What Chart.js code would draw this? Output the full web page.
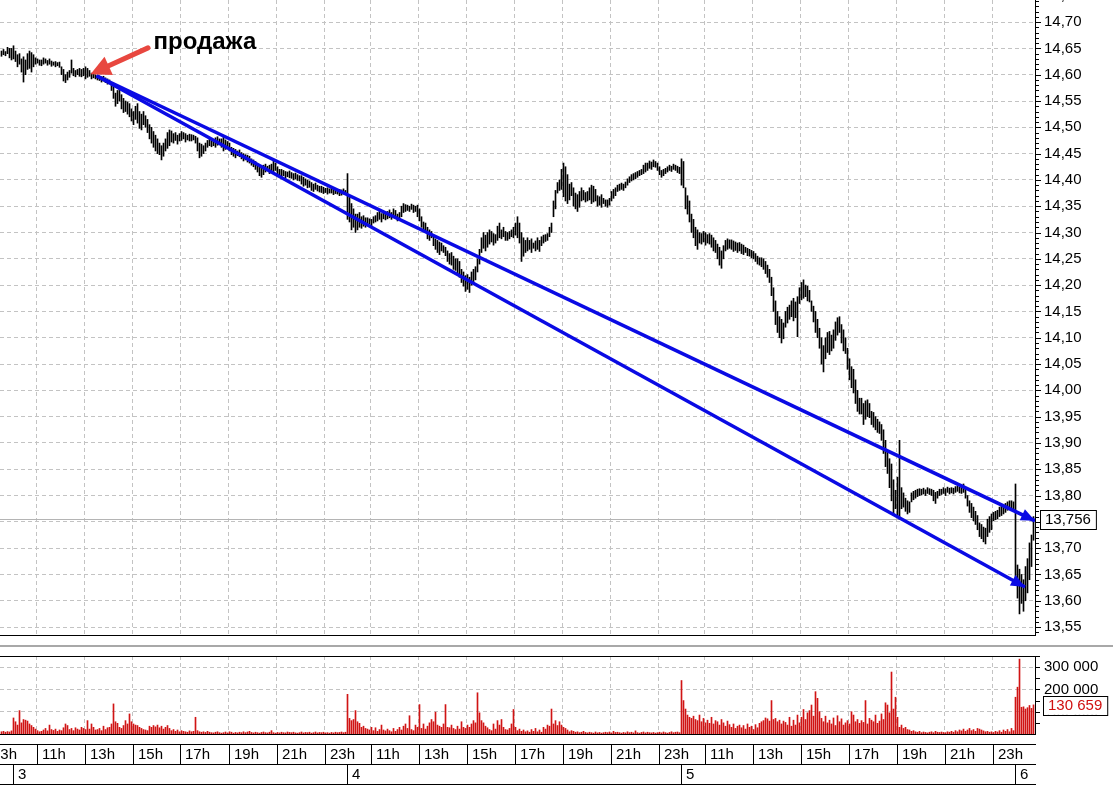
<!DOCTYPE html>
<html>
<head>
<meta charset="utf-8">
<script src="https://cdn.jsdelivr.net/npm/chart.js@4.4.1/dist/chart.umd.min.js"></script>
<style>
  html, body { margin: 0; padding: 0; background: #fff; }
  #wrap { position: relative; width: 1113px; height: 785px; overflow: hidden; background: #fff; }
  #price { position: absolute; left: 0; top: 0; }
  #sep { position: absolute; left: 0; top: 645px; width: 1113px; height: 2px; background: #a8a8a8; }
  #volume { position: absolute; left: 0; top: 648px; }
</style>
</head>
<body>
<div id="wrap">
  <canvas id="price" width="1113" height="636"></canvas>
  <div id="sep"></div>
  <canvas id="volume" width="1113" height="137"></canvas>
</div>
<script>
// 1. DATA (5-minute bars, index 0 = first visible bar)
const lows = [
  14.635, 14.638, 14.636, 14.640, 14.632, 14.628, 14.630, 14.625, 14.615, 14.620,
  14.605, 14.586, 14.600, 14.610, 14.612, 14.605, 14.615, 14.620, 14.622, 14.618,
  14.617, 14.620, 14.622, 14.618, 14.620, 14.616, 14.618, 14.615, 14.617, 14.614,
  14.600, 14.588, 14.585, 14.590, 14.595, 14.603, 14.598, 14.596, 14.600, 14.597,
  14.596, 14.598, 14.592, 14.595, 14.597, 14.592, 14.594, 14.592, 14.590, 14.589,
  14.586, 14.588, 14.585, 14.582, 14.583, 14.570, 14.555, 14.540, 14.545, 14.550,
  14.535, 14.528, 14.530, 14.525, 14.520, 14.512, 14.505, 14.515, 14.508, 14.498,
  14.495, 14.505, 14.500, 14.490, 14.478, 14.470, 14.462, 14.455, 14.450, 14.448,
  14.438, 14.445, 14.455, 14.460, 14.465, 14.472, 14.470, 14.475, 14.468, 14.474,
  14.475, 14.478, 14.472, 14.476, 14.474, 14.474, 14.476, 14.470, 14.455, 14.442,
  14.445, 14.450, 14.455, 14.462, 14.465, 14.463, 14.465, 14.462, 14.466, 14.468,
  14.462, 14.455, 14.458, 14.460, 14.455, 14.448, 14.445, 14.442, 14.446, 14.444,
  14.440, 14.436, 14.438, 14.434, 14.432, 14.428, 14.425, 14.420, 14.415, 14.408,
  14.405, 14.410, 14.415, 14.418, 14.412, 14.415, 14.412, 14.418, 14.410, 14.408,
  14.405, 14.408, 14.403, 14.406, 14.404, 14.403, 14.400, 14.402, 14.399, 14.398,
  14.392, 14.388, 14.390, 14.385, 14.386, 14.380, 14.378, 14.382, 14.379, 14.377,
  14.376, 14.374, 14.376, 14.373, 14.375, 14.375, 14.372, 14.374, 14.373, 14.370,
  14.371, 14.373, 14.372,
  // day 4
  14.325, 14.320, 14.305, 14.310, 14.300, 14.305, 14.310, 14.308, 14.312, 14.310,
  14.314, 14.316, 14.312, 14.318, 14.320, 14.322, 14.325, 14.320, 14.326, 14.324,
  14.326, 14.328, 14.325, 14.330, 14.327, 14.322, 14.325, 14.330, 14.338, 14.340,
  14.342, 14.340, 14.344, 14.338, 14.340, 14.330, 14.322, 14.310, 14.305, 14.300,
  14.288, 14.285, 14.290, 14.275, 14.268, 14.262, 14.258, 14.265, 14.262, 14.256,
  14.245, 14.240, 14.238, 14.230, 14.228, 14.220, 14.215, 14.205, 14.198, 14.188,
  14.192, 14.186, 14.200, 14.205, 14.210, 14.225, 14.240, 14.262, 14.270, 14.265,
  14.272, 14.278, 14.282, 14.276, 14.280, 14.285, 14.290, 14.288, 14.292, 14.285,
  14.285, 14.288, 14.292, 14.290, 14.295, 14.290, 14.280, 14.245, 14.255, 14.262,
  14.265, 14.268, 14.262, 14.270, 14.265, 14.268, 14.264, 14.275, 14.280, 14.283,
  14.285, 14.292, 14.300, 14.330, 14.345, 14.375, 14.380, 14.382, 14.368, 14.360,
  14.355, 14.362, 14.370, 14.350, 14.345, 14.340, 14.348, 14.360, 14.362, 14.358,
  14.360, 14.362, 14.355, 14.358, 14.360, 14.350, 14.352, 14.348, 14.355, 14.350,
  14.348, 14.352, 14.360, 14.365, 14.370, 14.378, 14.380, 14.382, 14.380, 14.385,
  14.390, 14.395, 14.398, 14.400, 14.402, 14.405, 14.408, 14.410, 14.412, 14.415,
  14.418, 14.422, 14.420, 14.425, 14.424, 14.418, 14.410, 14.405, 14.408, 14.412,
  14.415, 14.418, 14.416, 14.420, 14.418, 14.414, 14.412,
  // day 5
  14.390, 14.385, 14.345, 14.335, 14.320, 14.300, 14.290, 14.275, 14.268, 14.280,
  14.278, 14.282, 14.276, 14.280, 14.278, 14.272, 14.265, 14.262, 14.250, 14.238,
  14.232, 14.250, 14.265, 14.268, 14.270, 14.268, 14.264, 14.266, 14.262, 14.265,
  14.260, 14.258, 14.262, 14.256, 14.255, 14.252, 14.250, 14.245, 14.240, 14.238,
  14.235, 14.230, 14.222, 14.215, 14.205, 14.180, 14.150, 14.125, 14.110, 14.100,
  14.090, 14.098, 14.120, 14.128, 14.135, 14.140, 14.132, 14.138, 14.102, 14.165,
  14.172, 14.175, 14.178, 14.170, 14.168, 14.150, 14.130, 14.110, 14.100, 14.080,
  14.050, 14.035, 14.060, 14.072, 14.068, 14.075, 14.080, 14.095, 14.105, 14.110,
  14.090, 14.075, 14.070, 14.040, 14.020, 14.005, 13.995, 13.975, 13.960, 13.955,
  13.955, 13.935, 13.945, 13.950, 13.948, 13.935, 13.930, 13.925, 13.920, 13.918,
  13.905, 13.880, 13.855, 13.842, 13.815, 13.790, 13.762, 13.775, 13.760, 13.755,
  13.775, 13.778, 13.770, 13.765, 13.768, 13.788, 13.792, 13.795, 13.798, 13.800,
  13.801, 13.803, 13.800, 13.804, 13.802, 13.800, 13.790, 13.785, 13.795, 13.800,
  13.802, 13.804, 13.800, 13.806, 13.803, 13.805, 13.803, 13.806, 13.808, 13.805,
  13.804, 13.806, 13.795, 13.780, 13.768, 13.758, 13.752, 13.745, 13.735, 13.722,
  13.718, 13.712, 13.708, 13.722, 13.730, 13.735, 13.752, 13.754, 13.756, 13.760,
  13.762, 13.765, 13.768, 13.772, 13.775, 13.776, 13.774,
  // day 6
  13.640, 13.605, 13.575, 13.595, 13.580, 13.600, 13.615, 13.640, 13.665, 13.715
];

const highs = [
  14.645, 14.648, 14.644, 14.652, 14.650, 14.650, 14.655, 14.645, 14.638, 14.640,
  14.630, 14.634, 14.628, 14.640, 14.645, 14.642, 14.638, 14.632, 14.630, 14.628,
  14.628, 14.632, 14.630, 14.627, 14.630, 14.626, 14.624, 14.625, 14.623, 14.624,
  14.615, 14.610, 14.600, 14.605, 14.608, 14.628, 14.612, 14.608, 14.610, 14.612,
  14.610, 14.612, 14.615, 14.612, 14.608, 14.603, 14.602, 14.600, 14.598, 14.597,
  14.596, 14.597, 14.594, 14.592, 14.590, 14.585, 14.578, 14.565, 14.570, 14.575,
  14.562, 14.555, 14.550, 14.548, 14.545, 14.535, 14.530, 14.540, 14.545, 14.530,
  14.525, 14.530, 14.522, 14.515, 14.505, 14.500, 14.492, 14.485, 14.478, 14.470,
  14.465, 14.470, 14.478, 14.490, 14.495, 14.493, 14.488, 14.490, 14.485, 14.488,
  14.492, 14.490, 14.488, 14.485, 14.487, 14.486, 14.485, 14.483, 14.480, 14.470,
  14.468, 14.465, 14.470, 14.475, 14.478, 14.475, 14.477, 14.480, 14.482, 14.478,
  14.478, 14.482, 14.476, 14.473, 14.470, 14.462, 14.460, 14.458, 14.455, 14.457,
  14.452, 14.450, 14.448, 14.447, 14.445, 14.440, 14.438, 14.435, 14.430, 14.425,
  14.425, 14.428, 14.430, 14.426, 14.428, 14.430, 14.436, 14.432, 14.425, 14.420,
  14.420, 14.418, 14.416, 14.415, 14.417, 14.414, 14.412, 14.413, 14.410, 14.408,
  14.408, 14.405, 14.402, 14.400, 14.398, 14.395, 14.392, 14.394, 14.390, 14.388,
  14.388, 14.386, 14.384, 14.385, 14.383, 14.385, 14.384, 14.382, 14.380, 14.382,
  14.381, 14.383, 14.380,
  // day 4
  14.412, 14.370, 14.355, 14.345, 14.335, 14.335, 14.338, 14.330, 14.332, 14.328,
  14.328, 14.326, 14.325, 14.330, 14.332, 14.338, 14.342, 14.336, 14.338, 14.335,
  14.340, 14.343, 14.338, 14.345, 14.342, 14.335, 14.338, 14.350, 14.355, 14.353,
  14.352, 14.350, 14.354, 14.352, 14.350, 14.352, 14.345, 14.330, 14.320, 14.318,
  14.310, 14.305, 14.302, 14.295, 14.288, 14.285, 14.282, 14.280, 14.275, 14.272,
  14.265, 14.260, 14.262, 14.255, 14.250, 14.250, 14.245, 14.230, 14.225, 14.218,
  14.220, 14.215, 14.225, 14.230, 14.235, 14.250, 14.268, 14.290, 14.300, 14.295,
  14.300, 14.305, 14.302, 14.298, 14.296, 14.312, 14.318, 14.305, 14.310, 14.302,
  14.300, 14.302, 14.305, 14.310, 14.318, 14.330, 14.318, 14.300, 14.290, 14.285,
  14.290, 14.285, 14.288, 14.280, 14.284, 14.290, 14.285, 14.292, 14.295, 14.296,
  14.298, 14.310, 14.318, 14.360, 14.380, 14.395, 14.400, 14.420, 14.432, 14.425,
  14.410, 14.392, 14.395, 14.385, 14.375, 14.372, 14.378, 14.385, 14.380, 14.376,
  14.378, 14.385, 14.390, 14.388, 14.382, 14.370, 14.368, 14.372, 14.365, 14.362,
  14.362, 14.365, 14.378, 14.382, 14.385, 14.390, 14.392, 14.394, 14.392, 14.396,
  14.402, 14.406, 14.410, 14.412, 14.414, 14.416, 14.418, 14.420, 14.428, 14.432,
  14.432, 14.436, 14.434, 14.438, 14.435, 14.432, 14.425, 14.418, 14.420, 14.422,
  14.425, 14.428, 14.426, 14.430, 14.428, 14.426, 14.424,
  // day 5
  14.440, 14.435, 14.385, 14.370, 14.360, 14.335, 14.325, 14.310, 14.305, 14.300,
  14.298, 14.302, 14.300, 14.296, 14.298, 14.295, 14.290, 14.285, 14.278, 14.272,
  14.265, 14.275, 14.285, 14.288, 14.286, 14.286, 14.284, 14.282, 14.280, 14.281,
  14.278, 14.276, 14.272, 14.270, 14.268, 14.266, 14.264, 14.260, 14.255, 14.252,
  14.252, 14.250, 14.245, 14.238, 14.230, 14.215, 14.195, 14.170, 14.150, 14.140,
  14.135, 14.128, 14.150, 14.158, 14.162, 14.170, 14.175, 14.168, 14.178, 14.195,
  14.205, 14.210, 14.200, 14.198, 14.190, 14.170, 14.160, 14.150, 14.135, 14.118,
  14.100, 14.085, 14.100, 14.110, 14.112, 14.105, 14.115, 14.130, 14.138, 14.140,
  14.125, 14.115, 14.100, 14.080, 14.060, 14.045, 14.040, 14.020, 14.000, 13.985,
  13.985, 13.975, 13.980, 13.982, 13.975, 13.960, 13.958, 13.950, 13.945, 13.940,
  13.935, 13.925, 13.905, 13.885, 13.870, 13.860, 13.830, 13.810, 13.835, 13.905,
  13.815, 13.805, 13.795, 13.790, 13.788, 13.805, 13.808, 13.810, 13.812, 13.813,
  13.812, 13.814, 13.811, 13.815, 13.813, 13.812, 13.810, 13.806, 13.808, 13.812,
  13.812, 13.815, 13.813, 13.816, 13.814, 13.815, 13.814, 13.817, 13.818, 13.816,
  13.818, 13.822, 13.815, 13.800, 13.790, 13.785, 13.778, 13.770, 13.762, 13.748,
  13.745, 13.740, 13.738, 13.755, 13.760, 13.765, 13.768, 13.770, 13.772, 13.778,
  13.780, 13.782, 13.785, 13.788, 13.790, 13.790, 13.788,
  // day 6
  13.822, 13.668, 13.660, 13.650, 13.640, 13.665, 13.680, 13.710, 13.725, 13.760
];

// volume in thousands
const volumes = [
  10, 12, 8, 11, 9, 14,
  72, 55, 40, 105, 50, 65, 62, 58, 45, 38, 30, 22, 15, 10, 12,
  18, 25, 14, 40, 20, 16, 22, 12, 18, 15, 28, 45, 38, 20, 25,
  15, 28, 22, 18, 30, 25, 20, 60, 22, 45, 30, 18, 20, 25, 15,
  35, 20, 28, 30, 45, 135, 55, 48, 30, 25, 38, 60, 45, 90, 55,
  45, 40, 38, 30, 25, 20, 18, 15, 35, 30, 38, 32, 40, 28, 35,
  22, 30, 38, 25, 15, 20, 12, 18, 10, 15, 12, 10, 8, 14, 10,
  12, 75, 15, 10, 8, 10, 7, 12, 8, 6, 5, 8, 10, 6, 4,
  6, 9, 5, 10, 8, 4, 7, 5, 8, 6, 10, 6, 9, 12, 7,
  5, 8, 6, 4, 7, 9, 6, 5, 8, 15, 6, 4, 7, 5, 8,
  6, 5, 9, 7, 6, 8, 5, 4, 6, 9, 5, 7, 6, 8, 4,
  6, 9, 5, 7, 6, 8, 5, 6, 4, 7, 5, 8, 6, 7, 9,
  6, 8,
  // day 4
  178, 70, 60, 65, 105, 55, 48, 30, 35, 25, 22, 18, 30, 15, 28,
  12, 20, 40, 18, 14, 22, 15, 10, 25, 12, 20, 30, 18, 35, 45,
  25, 82, 20, 15, 40, 30, 132, 25, 45, 22, 35, 50, 65, 55, 98,
  40, 35, 30, 45, 132, 30, 28, 40, 25, 20, 35, 22, 55, 30, 25,
  40, 30, 45, 60, 50, 185, 95, 60, 50, 35, 28, 20, 15, 45, 22,
  60, 40, 65, 30, 20, 18, 25, 45, 110, 30, 15, 22, 12, 18, 10,
  14, 8, 20, 12, 25, 10, 18, 8, 30, 22, 40, 35, 112, 45, 60,
  38, 55, 40, 30, 25, 18, 10, 15, 12, 8, 10, 6, 8, 12, 7,
  5, 8, 6, 4, 9, 5, 7, 4, 6, 8, 6, 9, 5, 12, 7,
  8, 6, 4, 7, 5, 10, 6, 8, 5, 14, 6, 4, 7, 9, 5,
  8, 6, 5, 7, 4, 6, 8, 5, 9, 6, 4, 7, 10, 6, 8,
  9, 6,
  // day 5
  240, 150, 112, 85, 75, 70, 80, 65, 60, 85, 55, 70, 50, 62, 48,
  75, 45, 60, 55, 40, 65, 50, 35, 58, 42, 30, 45, 25, 35, 40,
  28, 38, 22, 45, 30, 35, 20, 42, 28, 48, 55, 60, 72, 68, 58,
  150, 65, 70, 55, 62, 45, 58, 52, 40, 75, 35, 62, 40, 85, 50,
  75, 110, 65, 95, 105, 130, 80, 190, 160, 100, 70, 55, 80, 50, 62,
  45, 72, 38, 82, 55, 68, 40, 50, 60, 45, 100, 85, 55, 65, 48,
  60, 52, 150, 45, 70, 62, 55, 85, 48, 58, 90, 65, 140, 130, 95,
  278, 112, 165, 75, 30, 40, 25, 30, 20, 18, 12, 15, 10, 8, 12,
  6, 9, 7, 5, 8, 10, 6, 12, 8, 7, 9, 7, 6, 10, 8,
  12, 8, 15, 10, 18, 14, 22, 12, 18, 25, 15, 20, 12, 25, 22,
  18, 14, 10, 12, 8, 10, 7, 12, 9, 15, 8, 18, 12, 20, 10,
  25, 15,
  // day 6
  165, 210, 336, 120, 122, 112, 118, 128, 115, 130.659
];

const hourLabels = ['11h', '13h', '15h', '17h', '19h', '21h', '23h'];
const dayLabels = ['3', '4', '5', '6'];
const dayStarts = [6, 173, 340, 507];          // first bar of each session (10:00)
const prevDayStart = -163;                     // session before the first label day
const priceTicks = [13.55, 13.60, 13.65, 13.70, 13.75, 13.80, 13.85, 13.90, 13.95, 14.00,
  14.05, 14.10, 14.15, 14.20, 14.25, 14.30, 14.35, 14.40, 14.45, 14.50,
  14.55, 14.60, 14.65, 14.70, 14.75];
const volumeTicks = [100, 200, 300];
const lastPrice = 13.756;
const lastVolume = 130659;

// channel lines and sale marker, in (bar index, price)
const channelStart = { x: 47.5, y: 14.598 };
const upperEnd = { x: 516.75, y: 13.752 };
const lowerEnd = { x: 511.75, y: 13.626 };
const saleArrowTail = { x: 73.25, y: 14.651 };
const saleArrowTip = { x: 44.5, y: 14.601 };
const saleLabel = { x: 76, y: 14.649, text: 'продажа' };

// 2. SETUP
const X_MIN = -0.75, X_MAX = 516.75;
const OPEN_HOUR = 10, BARS_PER_HOUR = 12;
const GRID = '#c3c3c3';
const BLUE = '#0a0ae4';
const FONT = '"Liberation Sans", Arial, sans-serif';
Chart.defaults.font.family = FONT;
Chart.defaults.color = '#000';

const hourTicks = [];
[prevDayStart].concat(dayStarts).forEach(s => {
    hourLabels.forEach(lbl => {
        const v = s + (parseInt(lbl) - OPEN_HOUR) * BARS_PER_HOUR - 0.5;
        if (v < X_MAX) hourTicks.push({ value: v, label: lbl });
    });
});
const gridTicks = hourTicks.filter(t => t.value > X_MIN);

function xAxis() {
    return {
        type: 'linear', min: X_MIN, max: X_MAX, offset: false,
        afterBuildTicks: s => { s.ticks = gridTicks.map(t => ({ value: t.value })); },
        afterFit: s => { s.height = 0; },
        ticks: { display: false, autoSkip: false },
        grid: { color: GRID, drawTicks: false, offset: false },
        border: { display: false, dash: [4, 3] }
    };
}

function drawArrowHead(ctx, x0, y0, x1, y1, len, half) {
    const d = Math.hypot(x1 - x0, y1 - y0), ux = (x1 - x0) / d, uy = (y1 - y0) / d;
    const bx = x1 - ux * len, by = y1 - uy * len;
    ctx.beginPath();
    ctx.moveTo(x1, y1);
    ctx.lineTo(bx - uy * half, by + ux * half);
    ctx.lineTo(bx + uy * half, by - ux * half);
    ctx.closePath();
    ctx.fill();
}

function valueBox(ctx, text, x, y, color) {
    ctx.font = '15px ' + FONT;
    const w = ctx.measureText(text).width + 10;
    ctx.fillStyle = '#fff';
    ctx.fillRect(x, y - 9, w, 19);
    ctx.strokeStyle = '#000';
    ctx.lineWidth = 1;
    ctx.strokeRect(x + 0.5, Math.round(y - 9) + 0.5, w, 19);
    ctx.fillStyle = color;
    ctx.textBaseline = 'middle';
    ctx.textAlign = 'left';
    ctx.fillText(text, x + 5, y + 1);
}

// 3. PRICE PANEL
const priceOverlay = {
    id: 'priceOverlay',
    beforeDatasetsDraw(chart) {
        const { ctx, chartArea: a, scales: { y } } = chart;
        const py = Math.round(y.getPixelForValue(lastPrice)) + 0.5;
        ctx.save();
        ctx.strokeStyle = '#b4b4b4';
        ctx.lineWidth = 1;
        ctx.beginPath(); ctx.moveTo(a.left, py); ctx.lineTo(a.right, py); ctx.stroke();
        ctx.restore();
    },
    afterDatasetsDraw(chart) {
        const { ctx, scales: { x, y } } = chart;
        const sx = x.getPixelForValue(channelStart.x), sy = y.getPixelForValue(channelStart.y);
        ctx.save();
        ctx.fillStyle = BLUE;
        [upperEnd, lowerEnd].forEach(p => {
            drawArrowHead(ctx, sx, sy, x.getPixelForValue(p.x), y.getPixelForValue(p.y), 14, 6);
        });

        // red "sale" arrow
        const tx = x.getPixelForValue(saleArrowTail.x), ty = y.getPixelForValue(saleArrowTail.y);
        const hx = x.getPixelForValue(saleArrowTip.x), hy = y.getPixelForValue(saleArrowTip.y);
        const d = Math.hypot(hx - tx, hy - ty);
        ctx.strokeStyle = '#e8473f';
        ctx.fillStyle = '#e8473f';
        ctx.lineWidth = 5;
        ctx.lineCap = 'round';
        ctx.beginPath();
        ctx.moveTo(tx, ty);
        ctx.lineTo(hx - (hx - tx) / d * 14, hy - (hy - ty) / d * 14);
        ctx.stroke();
        drawArrowHead(ctx, tx, ty, hx, hy, 20, 10);

        ctx.fillStyle = '#000';
        ctx.font = 'bold 24px ' + FONT;
        ctx.textBaseline = 'alphabetic';
        ctx.fillText(saleLabel.text, x.getPixelForValue(saleLabel.x), y.getPixelForValue(saleLabel.y));
        ctx.restore();
    },
    afterDraw(chart) {
        const { ctx, chartArea: a, scales: { y } } = chart;
        ctx.save();
        ctx.strokeStyle = '#000';
        ctx.lineWidth = 1;
        ctx.beginPath();
        ctx.moveTo(a.right + 0.5, 0); ctx.lineTo(a.right + 0.5, a.bottom);
        ctx.moveTo(0, a.bottom - 0.5); ctx.lineTo(a.right + 1, a.bottom - 0.5);
        // minor ticks every 0.01
        for (let k = 1354; k <= 1475; k++) {
            const py = Math.round(y.getPixelForValue(k / 100)) + 0.5;
            ctx.moveTo(a.right, py);
            ctx.lineTo(a.right + (k % 5 === 0 ? 6 : 4), py);
        }
        ctx.stroke();
        valueBox(ctx, lastPrice.toFixed(3).replace('.', ','), a.right + 5, y.getPixelForValue(lastPrice), '#000');
        ctx.restore();
    }
};

new Chart(document.getElementById('price'), {
    type: 'bar',
    data: {
        datasets: [
            {
                type: 'line', data: [channelStart, upperEnd],
                borderColor: BLUE, borderWidth: 3.5, pointRadius: 0
            },
            {
                type: 'line', data: [channelStart, lowerEnd],
                borderColor: BLUE, borderWidth: 3.5, pointRadius: 0
            },
            {
                data: lows.map((lo, i) => ({ x: i, y: [lo, highs[i]] })),
                backgroundColor: '#000', borderWidth: 0, barThickness: 1, grouped: false
            }
        ]
    },
    options: {
        responsive: false, animation: false,
        layout: { padding: 0 },
        plugins: { legend: { display: false }, tooltip: { enabled: false } },
        scales: {
            x: xAxis(),
            y: {
                position: 'right', min: 13.533, max: 14.742,
                afterBuildTicks: s => { s.ticks = priceTicks.map(v => ({ value: v })); },
                afterFit: s => { s.width = 78; s.paddingTop = 0; s.paddingBottom = 0; },
                ticks: {
                    autoSkip: false, padding: 9, color: '#000', font: { size: 15 },
                    callback: v => v.toFixed(2).replace('.', ',')
                },
                grid: { color: GRID, drawTicks: false },
                border: { display: false, dash: [4, 3] }
            }
        }
    },
    plugins: [priceOverlay]
});

// 4. VOLUME PANEL + TIME AXIS
const volumeOverlay = {
    id: 'volumeOverlay',
    afterDraw(chart) {
        const { ctx, chartArea: a, scales: { x, y } } = chart;
        const rowTop = a.bottom + 10, rowMid = rowTop + 20, rowBot = rowMid + 20;
        ctx.save();
        ctx.strokeStyle = '#000';
        ctx.lineWidth = 1;
        ctx.beginPath();
        ctx.moveTo(0, a.top + 0.5); ctx.lineTo(a.right + 1, a.top + 0.5);
        ctx.moveTo(a.right + 0.5, a.top); ctx.lineTo(a.right + 0.5, a.bottom + 1);
        ctx.moveTo(0, a.bottom + 0.5); ctx.lineTo(a.right + 1, a.bottom + 0.5);
        [rowTop, rowMid, rowBot].forEach(r => { ctx.moveTo(0, r + 0.5); ctx.lineTo(a.right + 1, r + 0.5); });
        for (let v = 50; v <= 350; v += 50) {
            const py = Math.round(y.getPixelForValue(v)) + 0.5;
            ctx.moveTo(a.right, py); ctx.lineTo(a.right + 5, py);
        }
        hourTicks.forEach(t => {
            const px = Math.round(x.getPixelForValue(t.value)) + 0.5;
            ctx.moveTo(px, rowTop); ctx.lineTo(px, rowMid);
        });
        dayStarts.forEach(s => {
            const px = Math.round(x.getPixelForValue(s - 0.5)) + 0.5;
            ctx.moveTo(px, rowMid); ctx.lineTo(px, rowBot);
        });
        ctx.stroke();

        ctx.fillStyle = '#000';
        ctx.font = '15px ' + FONT;
        ctx.textBaseline = 'middle';
        ctx.textAlign = 'left';
        hourTicks.forEach(t => {
            ctx.fillText(t.label, Math.round(x.getPixelForValue(t.value)) + 5, rowTop + 10.5);
        });
        dayStarts.forEach((s, k) => {
            ctx.fillText(dayLabels[k], Math.round(x.getPixelForValue(s - 0.5)) + 5, rowMid + 10.5);
        });

        valueBox(ctx, lastVolume.toLocaleString('ru-RU').replace(/\s/g, ' '), a.right + 8,
            y.getPixelForValue(lastVolume / 1000), '#d01010');
        ctx.restore();
    }
};

new Chart(document.getElementById('volume'), {
    type: 'bar',
    data: {
        datasets: [{
            data: volumes.map((v, i) => ({ x: i, y: v })),
            backgroundColor: '#d01414', borderWidth: 0, barThickness: 1, grouped: false
        }]
    },
    options: {
        responsive: false, animation: false,
        layout: { padding: { top: 8, bottom: 51, left: 0, right: 0 } },
        plugins: { legend: { display: false }, tooltip: { enabled: false } },
        scales: {
            x: xAxis(),
            y: {
                position: 'right', min: 0, max: 350,
                afterBuildTicks: s => { s.ticks = volumeTicks.map(v => ({ value: v })); },
                afterFit: s => { s.width = 78; s.paddingTop = 0; s.paddingBottom = 0; },
                ticks: {
                    autoSkip: false, padding: 9, color: '#000', font: { size: 15 },
                    callback: v => v + ' 000'
                },
                grid: { color: GRID, drawTicks: false },
                border: { display: false, dash: [4, 3] }
            }
        }
    },
    plugins: [volumeOverlay]
});
</script>
</body>
</html>
